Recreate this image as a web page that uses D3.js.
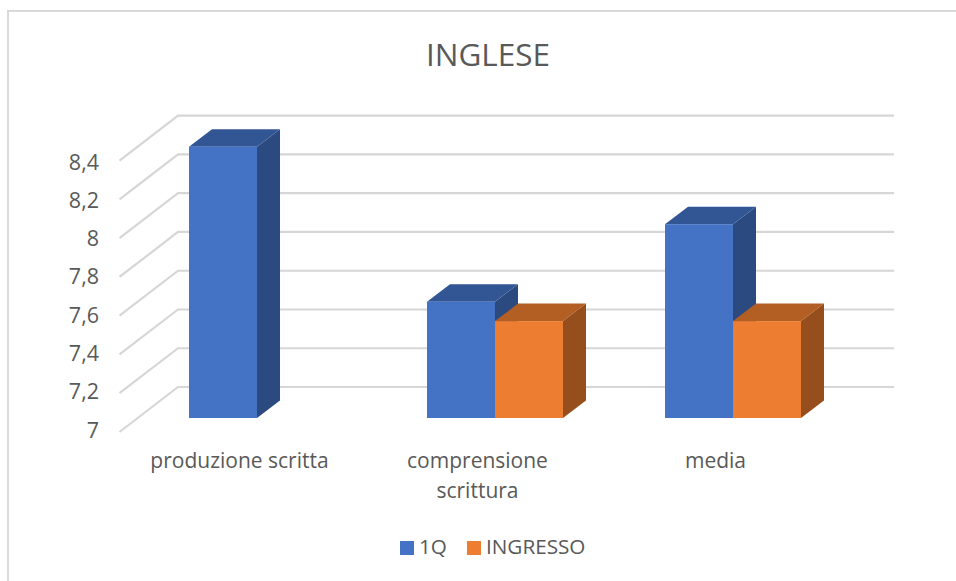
<!DOCTYPE html>
<html>
<head>
<meta charset="utf-8">
<script src="https://d3js.org/d3.v7.min.js"></script>
<style>
html, body { margin: 0; padding: 0; background: #fff; }
svg { display: block; font-family: "Open Sans", "Noto Sans", sans-serif; }
</style>
</head>
<body>
<svg id="chart" width="956" height="581"></svg>
<script>
// data
var categories = ["produzione scritta", "comprensione scrittura", "media"];
var seriesNames = ["1Q", "INGRESSO"];
var q1Values = [8.4, 7.6, 8];
var ingressoValues = [null, 7.5, 7.5];
var tickValues = [7, 7.2, 7.4, 7.6, 7.8, 8, 8.2, 8.4];
var tickLabels = ["7", "7,2", "7,4", "7,6", "7,8", "8", "8,2", "8,4"];

var svg = d3.select("#chart");

// front plane of the 3d box, the walls and the bars are offset from it
var y = d3.scaleLinear().domain([7, 8.4]).range([432, 160.7]);
// tick labels are spaced a little tighter than the grid
var yLabel = d3.scaleLinear().domain([7, 8.4]).range([437.5, 169.5]);
var x0 = d3.scaleBand().domain(categories).range([119.5, 833.5]).paddingInner(0).paddingOuter(0);
// gap is 150% of a bar, so 0.75 of a bar on each side of the pair
var x1 = d3.scaleBand().domain(seriesNames).range([0, x0.bandwidth()]).paddingInner(0).paddingOuter(0.75);

var wall = { dx: 58.5, dy: -45 };   // depth of the whole floor
var barFront = { dx: 18.5, dy: -14 };   // where bars start in the floor
var barDepth = { dx: 23, dy: -17.5 };   // how deep a bar is

var colors = {
    "1Q": { front: "#4472c4", top: "#325594", side: "#2a4a80" },
    "INGRESSO": { front: "#ed7d31", top: "#b35e22", side: "#964f1c" }
};

// chart border
svg.append("path")
    .attr("d", "M8,581V11H956")
    .attr("fill", "none")
    .attr("stroke", "#d9d9d9")
    .attr("stroke-width", 2);

svg.append("text")
    .attr("x", 488).attr("y", 65.5)
    .attr("text-anchor", "middle")
    .attr("font-size", 31.5)
    .attr("fill", "#595959")
    .text("INGLESE");

// grid lines, side wall then back wall
var grid = svg.append("g");
tickValues.forEach(function(v) {
    var x = x0.range()[0];
    var right = x0.range()[1] + 2;
    var pts = [[x, y(v)], [x + wall.dx, y(v) + wall.dy], [right + wall.dx, y(v) + wall.dy]];
    grid.append("path")
        .attr("d", d3.line()(pts))
        .attr("fill", "none")
        .attr("stroke", "#d6d6d6")
        .attr("stroke-width", 2.2);
});

// y tick labels
svg.append("g").selectAll("text")
    .data(tickValues)
    .enter()
    .append("text")
    .attr("x", 99)
    .attr("y", function(d) { return yLabel(d); })
    .attr("text-anchor", "end")
    .attr("font-size", 21.5)
    .attr("fill", "#595959")
    .text(function(d, i) { return tickLabels[i]; });

function drawBar(g, left, w, value, c) {
    var base = y(7) + barFront.dy;
    var top = y(value) + barFront.dy;
    var l = left + barFront.dx;
    var r = l + w;
    var dx = barDepth.dx, dy = barDepth.dy;
    g.append("path")
        .attr("d", d3.line()([[r, top], [r + dx, top + dy], [r + dx, base + dy], [r, base]]))
        .attr("fill", c.side);
    g.append("path")
        .attr("d", d3.line()([[l, top], [l + dx, top + dy], [r + dx, top + dy], [r, top]]))
        .attr("fill", c.top);
    g.append("rect")
        .attr("x", l).attr("y", top)
        .attr("width", w).attr("height", base - top)
        .attr("fill", c.front);
}

var bars = svg.append("g");
categories.forEach(function(cat, i) {
    var g = bars.append("g");
    // 1Q goes first so the orange bar sits over its side face
    drawBar(g, x0(cat) + x1("1Q"), x1.bandwidth(), q1Values[i], colors["1Q"]);
    if (ingressoValues[i] !== null) {
        drawBar(g, x0(cat) + x1("INGRESSO"), x1.bandwidth(), ingressoValues[i], colors["INGRESSO"]);
    }
});

// category labels, the long one wraps on two lines
var catLines = [["produzione scritta"], ["comprensione", "scrittura"], ["media"]];
categories.forEach(function(cat, i) {
    catLines[i].forEach(function(line, j) {
        svg.append("text")
            .attr("x", x0(cat) + x0.bandwidth() / 2 + 1)
            .attr("y", 468 + j * 30)
            .attr("text-anchor", "middle")
            .attr("font-size", 21)
            .attr("fill", "#595959")
            .text(line);
    });
});

// legend
var legendX = [400, 467];
seriesNames.forEach(function(name, i) {
    svg.append("rect")
        .attr("x", legendX[i]).attr("y", 541)
        .attr("width", 14).attr("height", 14)
        .attr("fill", colors[name].front);
    svg.append("text")
        .attr("x", legendX[i] + 19).attr("y", 554)
        .attr("font-size", 20.7)
        .attr("fill", "#595959")
        .text(name);
});
</script>
</body>
</html>
